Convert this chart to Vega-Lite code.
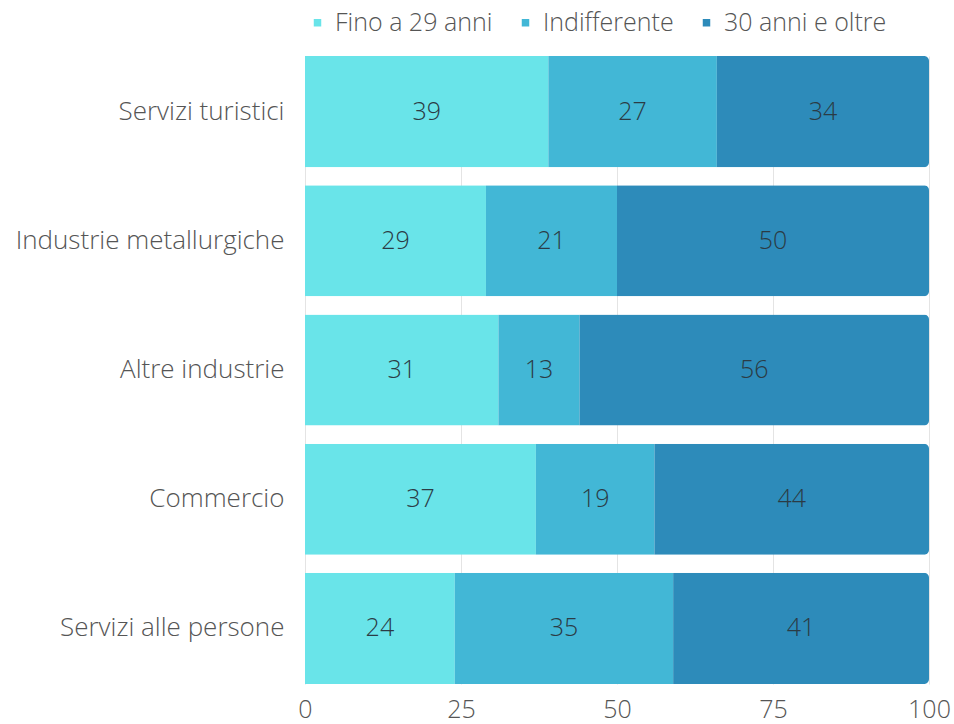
{
  "$schema": "https://vega.github.io/schema/vega-lite/v6.json",
  "width": 624,
  "height": 628,
  "autosize": "none",
  "padding": {"left": 305, "top": 56, "right": 25, "bottom": 40},
  "background": "white",
  "config": {
    "view": {"stroke": null},
    "font": "Open Sans",
    "axis": {"labelFont": "Open Sans", "labelFontWeight": 300, "labelColor": "#555555", "labelFontSize": 25}
  },
  "data": {
    "values": [
      {"settore": "Servizi turistici", "eta": "Fino a 29 anni", "k": 1, "valore": 39},
      {"settore": "Servizi turistici", "eta": "Indifferente", "k": 2, "valore": 27},
      {"settore": "Servizi turistici", "eta": "30 anni e oltre", "k": 3, "valore": 34},
      {"settore": "Industrie metallurgiche", "eta": "Fino a 29 anni", "k": 1, "valore": 29},
      {"settore": "Industrie metallurgiche", "eta": "Indifferente", "k": 2, "valore": 21},
      {"settore": "Industrie metallurgiche", "eta": "30 anni e oltre", "k": 3, "valore": 50},
      {"settore": "Altre industrie ", "eta": "Fino a 29 anni", "k": 1, "valore": 31},
      {"settore": "Altre industrie ", "eta": "Indifferente", "k": 2, "valore": 13},
      {"settore": "Altre industrie ", "eta": "30 anni e oltre", "k": 3, "valore": 56},
      {"settore": "Commercio", "eta": "Fino a 29 anni", "k": 1, "valore": 37},
      {"settore": "Commercio", "eta": "Indifferente", "k": 2, "valore": 19},
      {"settore": "Commercio", "eta": "30 anni e oltre", "k": 3, "valore": 44},
      {"settore": "Servizi alle persone", "eta": "Fino a 29 anni", "k": 1, "valore": 24},
      {"settore": "Servizi alle persone", "eta": "Indifferente", "k": 2, "valore": 35},
      {"settore": "Servizi alle persone", "eta": "30 anni e oltre", "k": 3, "valore": 41}
    ]
  },
  "encoding": {
    "y": {
      "field": "settore",
      "type": "nominal",
      "sort": ["Servizi turistici", "Industrie metallurgiche", "Altre industrie ", "Commercio", "Servizi alle persone"],
      "scale": {"paddingInner": 0.14, "paddingOuter": 0},
      "axis": {"title": null, "domain": false, "ticks": false, "labelPadding": 21, "labelLimit": 320, "labelFontSize": 26}
    },
    "x": {
      "field": "valore",
      "type": "quantitative",
      "stack": "zero",
      "scale": {"domain": [0, 100], "nice": false},
      "axis": {"title": null, "values": [0, 25, 50, 75, 100], "domain": false, "ticks": false, "grid": true, "gridColor": "#e4e4e4", "labelPadding": 13, "labelFlush": false}
    },
    "order": {"field": "k", "type": "quantitative"}
  },
  "layer": [
    {
      "mark": {"type": "bar", "cornerRadiusEnd": 5},
      "encoding": {
        "color": {
          "field": "eta",
          "type": "nominal",
          "sort": ["Fino a 29 anni", "Indifferente", "30 anni e oltre"],
          "scale": {"domain": ["Fino a 29 anni", "Indifferente", "30 anni e oltre"], "range": ["#69E4E9", "#42B7D6", "#2D8BBA"]},
          "legend": {
            "title": null,
            "orient": "none",
            "direction": "horizontal",
            "legendX": 0,
            "legendY": -46,
            "symbolType": "square",
            "symbolSize": 56,
            "symbolStrokeWidth": 0,
            "labelFont": "Open Sans",
            "labelFontWeight": 300,
            "labelFontSize": 25,
            "labelColor": "#555555",
            "labelOffset": 5,
            "labelLimit": 300,
            "columnPadding": 20
          }
        }
      }
    },
    {
      "mark": {"type": "text", "font": "Open Sans", "fontWeight": 300, "fontSize": 25, "color": "#2b3b45"},
      "encoding": {
        "x": {"field": "valore", "type": "quantitative", "stack": "zero", "bandPosition": 0.5},
        "text": {"field": "valore", "type": "quantitative"}
      }
    }
  ]
}
